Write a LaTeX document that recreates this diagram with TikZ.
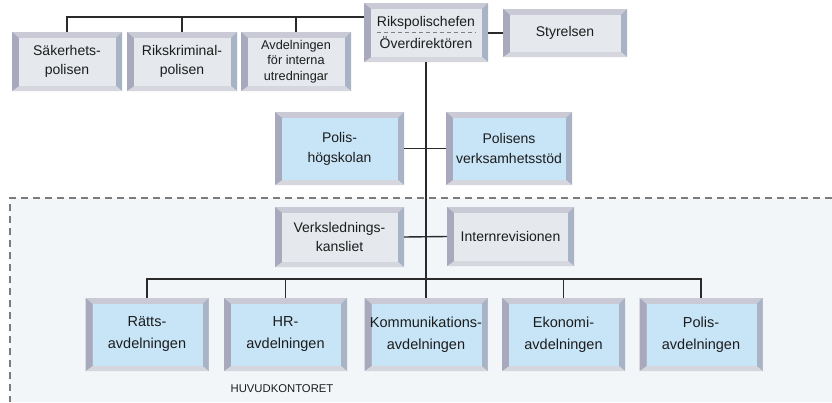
\documentclass[tikz,border=0pt]{standalone}
\usepackage{fontspec}
\setmainfont{Liberation Sans}
\definecolor{bvT}{HTML}{C9CAD5}
\definecolor{bvL}{HTML}{A9A9BD}
\definecolor{bvR}{HTML}{A8B3C6}
\definecolor{bvB}{HTML}{D6D7DE}
\definecolor{inBlue}{HTML}{C8E5F8}
\definecolor{inGray}{HTML}{E5E9ED}
\definecolor{region}{HTML}{F2F6F9}
\definecolor{txt}{HTML}{1C1C1C}
\definecolor{linec}{HTML}{2A2A2A}
\definecolor{dashc}{HTML}{7C7C7C}
\tikzset{
  bevin/.store in=\bevincolor, bevin=inBlue,
  bev/.style={rectangle, inner sep=0pt, align=center, text=txt, fill=bvT,
    font=\fontsize{14}{19}\selectfont,
    path picture={
      \path (path picture bounding box.north west) coordinate (pNW)
            (path picture bounding box.north east) coordinate (pNE)
            (path picture bounding box.south east) coordinate (pSE)
            (path picture bounding box.south west) coordinate (pSW);
      \path ([shift={(7pt,-6pt)}]pNW) coordinate (iNW)
            ([shift={(-6pt,-6pt)}]pNE) coordinate (iNE)
            ([shift={(-6pt,5pt)}]pSE) coordinate (iSE)
            ([shift={(7pt,5pt)}]pSW) coordinate (iSW);
      \fill[bvT] (pNW)--(pNE)--(iNE)--(iNW)--cycle;
      \fill[bvR] (pNE)--(pSE)--(iSE)--(iNE)--cycle;
      \fill[bvB] (pSE)--(pSW)--(iSW)--(iSE)--cycle;
      \fill[bvL] (pSW)--(pNW)--(iNW)--(iSW)--cycle;
      \fill[\bevincolor] (iNW) rectangle (iSE);
    }},
  bevblue/.style={bev, bevin=inBlue},
  bevgray/.style={bev, bevin=inGray},
  conn/.style={draw=linec, line width=1.4pt},
  dashline/.style={draw=dashc, line width=1.2pt, dash pattern=on 7pt off 5pt},
}
\begin{document}
\begin{tikzpicture}[x=1pt,y=-1pt]
\useasboundingbox[fill=white] (0,0) rectangle (832,402);
% head-office region
\fill[region] (10,198) rectangle (832,402);
\draw[dashline] (832,198) -- (10,198) -- (10,402);

% top row
\node[bevgray, minimum width=110pt, minimum height=59pt] (saek) at (67,61.5) {Säkerhets-\\polisen};
\node[bevgray, minimum width=110pt, minimum height=59pt] (krim) at (182,61.5) {Rikskriminal-\\polisen};
\node[bevgray, minimum width=110pt, minimum height=59pt, font=\fontsize{12.7}{15.5}\selectfont] (avd) at (296,61.5) {Avdelningen\\för interna\\utredningar};
\node[bevgray, minimum width=124pt, minimum height=59pt, font=\fontsize{14}{21.5}\selectfont] (riks) at (426,32.5) {Rikspolischefen\\Överdirektören};
\node[bevgray, minimum width=124pt, minimum height=48pt] (styr) at (565,33) {Styrelsen};

% middle
\node[bevblue, minimum width=129pt, minimum height=73pt, font=\fontsize{14}{20}\selectfont] (hog) at (339.5,148.5) {Polis-\\högskolan};
\node[bevblue, minimum width=126pt, minimum height=73pt, font=\fontsize{14}{20}\selectfont] (pvs) at (509,148.5) {Polisens\\verksamhetsstöd};
\node[bevgray, minimum width=129pt, minimum height=60pt] (verk) at (339.5,237) {Verkslednings-\\kansliet};
\node[bevgray, minimum width=127pt, minimum height=59pt] (intr) at (510.5,236.5) {Internrevisionen};

% bottom row
\tikzset{bot/.style={bevblue, minimum width=123pt, minimum height=73pt, font=\fontsize{14.5}{22}\selectfont}}
\node[bot] (ratt) at (147,334.5) {Rätts-\\avdelningen};
\node[bot] (hr) at (285.5,334.5) {HR-\\avdelningen};
\node[bot] (komm) at (426,334.5) {Kommunikations-\\avdelningen};
\node[bot] (eko) at (563.5,334.5) {Ekonomi-\\avdelningen};
\node[bot] (pavd) at (701,334.5) {Polis-\\avdelningen};

\node[text=txt, font=\fontsize{11.3}{13}\selectfont] (huvud) at (282,389) {HUVUDKONTORET};

% separator inside the chief's box
\draw[draw=gray, line width=0.6pt, dash pattern=on 4pt off 3pt] ([xshift=13pt]riks.west) -- ([xshift=-12pt]riks.east);

% connectors
\coordinate (topbus) at (0,17);
\coordinate (botbus) at (0,279);
\draw[conn] (saek.north) |- (riks.west |- topbus);
\draw[conn] (krim.north) -- (krim.north |- topbus);
\draw[conn] (avd.north) -- (avd.north |- topbus);
\draw[conn] (riks.east |- styr.west) -- (styr.west);
\draw[conn] (riks.south) -- (komm.north);
\draw[conn] (hog.east) -- (pvs.west);
\draw[conn] (verk.east) -- (intr.west);
\draw[conn] (ratt.north) |- (pavd.north |- botbus) -- (pavd.north);
\draw[conn] (hr.north) -- (hr.north |- botbus);
\draw[conn] (eko.north) -- (eko.north |- botbus);
\end{tikzpicture}
\end{document}
